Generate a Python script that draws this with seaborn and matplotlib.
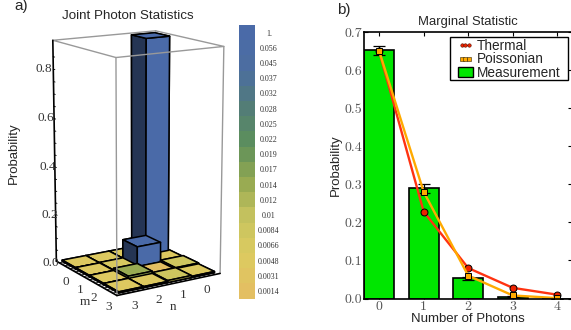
import numpy as np
import pandas as pd
import matplotlib
matplotlib.use("Agg")
import matplotlib.pyplot as plt
from matplotlib.colors import LinearSegmentedColormap, ListedColormap
from matplotlib.patches import Patch, Rectangle
from matplotlib.lines import Line2D
import seaborn as sns

sns.set_style("white")
plt.rcParams["font.family"] = ["Liberation Sans", "DejaVu Sans"]

# a) joint statistics, rows are m = 0..3, columns are n = 0..3
joint = [
    [0.91, 0.0048, 0.0048, 0.0048],
    [0.0048, 0.085, 0.0066, 0.0048],
    [0.0084, 0.0014, 0.014, 0.0048],
    [0.0048, 0.0084, 0.0048, 0.0048],
]
joint_ticks = [0, 1, 2, 3]
prob_ticks = [0.0, 0.2, 0.4, 0.6, 0.8]
legend_labels = ["1.", "0.056", "0.045", "0.037", "0.032", "0.028", "0.025", "0.022", "0.019",
                 "0.017", "0.014", "0.012", "0.01", "0.0084", "0.0066", "0.0048", "0.0031", "0.0014"]

# b) marginal statistics
photons = [0, 1, 2, 3, 4]
measurement = [0.652, 0.289, 0.053, 0.005, 0.0]
errors = [0.012, 0.012, 0.004, 0.002, 0.0]
thermal = [0.65, 0.228, 0.08, 0.028, 0.01]
poissonian = [0.65, 0.28, 0.06, 0.008, 0.001]

fig = plt.figure(figsize=(5.71, 3.30), dpi=100)

# colour bar
cmap = LinearSegmentedColormap.from_list("joint", ["#e3bf62", "#dccb60", "#c6c35f", "#93a850", "#5c8f5c",
                                                   "#527c78", "#4c6ea0", "#4a6aa8"])
n_bins = len(legend_labels)
bin_colors = [cmap(i / (n_bins - 1)) for i in range(n_bins)][::-1]
cax = fig.add_axes([239 / 571, 1 - 298.5 / 330, 16 / 571, 273.5 / 330], zorder=5)
sns.heatmap(np.arange(n_bins).reshape(-1, 1), ax=cax, cmap=ListedColormap(bin_colors), cbar=False,
            xticklabels=False, yticklabels=legend_labels)
cax.yaxis.tick_right()
cax.tick_params(axis="y", length=0, pad=10, rotation=0, labelsize=5.8, labelcolor="#333333")
for t in cax.get_yticklabels():
    t.set_family("Liberation Serif")
    t.set_ha("center")

# 3d bars
ax3 = fig.add_axes([-0.027, 0.03, 0.52, 0.96], projection="3d")
ax3.patch.set_visible(False)
ax3.set_proj_type("persp", focal_length=0.8)
ax3.view_init(elev=14, azim=58)
ax3.set_box_aspect((1, 1, 1.9), zoom=0.94)
low, high = -0.62, 3.68
ax3.set_xlim(low, high, view_margin=0)
ax3.set_ylim(low, high, view_margin=0)
z_top = 0.915
ax3.set_zlim(0, z_top, view_margin=0)
ax3.set_axis_off()

values = np.array(joint)
label_vals = np.array([float(v) for v in legend_labels])
xs, ys, tops, face_colors = [], [], [], []
for m in range(4):
    for n in range(4):
        v = values[m, n]
        i = int(np.argmin(np.abs(np.log(label_vals) - np.log(v)))) if v < 0.06 else 0
        c = np.array(bin_colors[i][:3])
        xs.append(n - 0.5)
        ys.append(m - 0.5)
        tops.append(v)
        dark = c * 0.5
        # faces: bottom, top, -y, +y, -x, +x
        face_colors += [c, c, dark, c, dark, dark]
ax3.bar3d(xs, ys, np.zeros(16), 1, 1, tops, color=face_colors, shade=False, edgecolor="black", linewidth=1.1)

# box frame
gray = "#999999"
ax3.plot([low, low], [high, high], [0, z_top], color=gray, lw=1.0)
ax3.plot([high, high], [high, high], [0, z_top], color=gray, lw=1.0)
ax3.plot([low, high, high, low, low], [low, low, high, high, low], [z_top] * 5, color=gray, lw=1.0)
ax3.plot([high, high], [low, low], [0, z_top], color="black", lw=1.2)
ax3.plot([high, high], [low, high], [0, 0], color="black", lw=1.2)
ax3.plot([low, high], [high, high], [0, 0], color="black", lw=1.2)

tick_color = "#333333"
for i in joint_ticks:
    ax3.text(high + 0.05, i + 0.2, -0.062, str(i), family="Liberation Serif", fontsize=9.5, color=tick_color, ha="center", va="center")
    ax3.text(i, high + 0.05, -0.055, str(i), family="Liberation Serif", fontsize=9.5, color=tick_color, ha="center", va="center")
    for off in np.arange(-0.4, 0.6, 0.2):
        ax3.plot([high, high - 0.13], [i + off, i + off], [0, 0], color="black", lw=0.6)
        ax3.plot([i + off, i + off], [high, high - 0.13], [0, 0], color="black", lw=0.6)
ax3.text(high + 0.6, 2.5, -0.055, "m", family="Liberation Serif", fontsize=9.5, color=tick_color, ha="center", va="center")
ax3.text(1.6, high + 0.3, -0.08, "n", family="Liberation Serif", fontsize=9.5, color=tick_color, ha="center", va="center")
for z in prob_ticks:
    ax3.text(high + 0.25, low + 0.07 - 0.42 * z, z, f"{z:.1f}", family="Liberation Serif", fontsize=9.5, color=tick_color, ha="center", va="center")
for z in np.arange(0, 0.9, 0.05):
    ax3.plot([high, high], [low, low + 0.12], [z, z], color="black", lw=0.6)

fig.text(128 / 571, 1 - 16 / 330, "Joint Photon Statistics", ha="center", va="center", fontsize=9.6)
fig.text(14 / 571, 1 - 153 / 330, "Probability", rotation=90, ha="center", va="center", fontsize=9.5)
fig.text(14 / 571, 1 - 6 / 330, "a)", ha="left", va="center", fontsize=11)
fig.text(337 / 571, 1 - 10 / 330, "b)", ha="left", va="center", fontsize=11)

# marginal panel
ax = fig.add_axes([364 / 571, 1 - 298.5 / 330, 208 / 571, 266.5 / 330])
df = pd.DataFrame({"photons": photons, "measurement": measurement, "thermal": thermal, "poissonian": poissonian})
sns.barplot(data=df, x="photons", y="measurement", native_scale=True, color="#00e600", saturation=1,
            width=0.67, edgecolor="black", linewidth=1.2, ax=ax)
ax.errorbar(photons, measurement, yerr=errors, fmt="none", ecolor="black", elinewidth=0.9, capsize=4, capthick=0.9)
sns.lineplot(data=df, x="photons", y="thermal", color="#ff3311", lw=1.7, marker="o", ms=5,
             mfc="#ee2200", mec="black", mew=0.7, ax=ax)
sns.lineplot(data=df, x="photons", y="poissonian", color="#ffaa00", lw=1.7, marker="s", ms=4.5,
             mfc="#ffaa00", mec="black", mew=0.7, ax=ax)
ax.set_xlim(-0.34, 4.33)
ax.set_ylim(0, 0.7)
ax.set_xticks(photons)
ax.set_yticks(np.arange(0, 0.8, 0.1))
ax.set_yticklabels([f"{v:.1f}" for v in np.arange(0, 0.8, 0.1)])
ax.tick_params(axis="both", direction="in", length=3, width=0.8, top=True, right=True, left=True, bottom=True,
               labelsize=10, labelcolor="#555555", color="black", pad=1.5)
for t in ax.get_xticklabels() + ax.get_yticklabels():
    t.set_family("cmr10")
for s in ax.spines.values():
    s.set_visible(True)
    s.set_color("black")
    s.set_linewidth(1.2)
ax.set_xlabel("Number of Photons", fontsize=9.5, labelpad=0.5)
ax.set_ylabel("Probability", fontsize=9.5, labelpad=1.5)
ax.set_title("Marginal Statistic", fontsize=9.4, pad=5)

# legend box is a bit wider than the legend text
ax.add_patch(Rectangle((450 / 571, 1 - 80 / 330), 118 / 571, 43 / 330, transform=fig.transFigure,
                       fc="white", ec="black", lw=1, zorder=6, clip_on=False))
handles = [Line2D([], [], color="#aa1100", lw=1.0, marker="o", ms=2.5, mfc="#ee2200", mec="#551100", mew=0.4),
           Line2D([], [], color="#aa7700", lw=1.0, marker="s", ms=2.5, mfc="#ffaa00", mec="#332200", mew=0.4),
           Patch(fc="#00e600", ec="black", lw=1)]
leg = ax.legend(handles, ["Thermal", "Poissonian", "Measurement"], loc="upper left",
                bbox_to_anchor=(458 / 571, 1 - 39 / 330), bbox_transform=fig.transFigure, numpoints=3,
                fontsize=9.8, frameon=False, borderpad=0, labelspacing=-0.05, handlelength=1.1,
                handletextpad=0.25, borderaxespad=0)
leg.set_zorder(7)

fig.savefig("out.png", dpi=100)
